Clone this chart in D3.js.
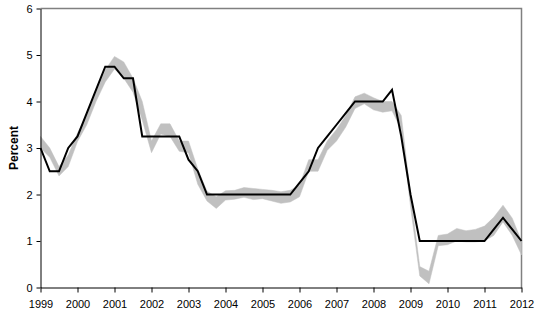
<!DOCTYPE html>
<meta charset="utf-8">
<style>
body {
  margin: 0;
  background: #fff;
}
svg {
  display: block;
  font-family: "Liberation Sans", Arial, sans-serif;
}
.axis text {
  font-size: 11px;
  fill: #000;
}
.axis path, .axis line {
  stroke: #000;
}
</style>
<svg width="539" height="317"></svg>
<script src="https://d3js.org/d3.v7.min.js"></script>
<script>
var svg = d3.select("svg")

// quarterly observations, 1999Q1 .. 2012Q1
var quarters = d3.range(53).map(function(i) { return 1999 + i / 4 })
var years = d3.range(1999, 2013)
var yTicks = [0, 1, 2, 3, 4, 5, 6]

// policy rate (black line)
var policyRate = [
  3.0, 2.5, 2.5, 3.0,
  3.25, 3.75, 4.25, 4.75,
  4.75, 4.5, 4.5, 3.25,
  3.25, 3.25, 3.25, 3.25,
  2.75, 2.5, 2.0, 2.0,
  2.0, 2.0, 2.0, 2.0,
  2.0, 2.0, 2.0, 2.0,
  2.25, 2.5, 3.0, 3.25,
  3.5, 3.75, 4.0, 4.0,
  4.0, 4.0, 4.25, 3.25,
  2.0, 1.0, 1.0, 1.0,
  1.0, 1.0, 1.0, 1.0,
  1.0, 1.25, 1.5, 1.25,
  1.0
]
// gray range: upper and lower bounds
var rangeHigh = [
  3.25, 3.0, 2.6, 2.85,
  3.32, 3.72, 4.2, 4.68,
  4.97, 4.85, 4.5, 4.0,
  3.15, 3.52, 3.52, 3.15,
  3.15, 2.55, 2.07, 1.95,
  2.08, 2.09, 2.15, 2.13,
  2.11, 2.09, 2.06, 2.09,
  2.2, 2.75, 2.75, 3.15,
  3.4, 3.7, 4.1, 4.18,
  4.08, 4.0, 4.0, 3.7,
  2.0, 0.45, 0.35, 1.12,
  1.15, 1.27, 1.22, 1.25,
  1.32, 1.51, 1.77, 1.49,
  1.0
]
var rangeLow = [
  3.0, 2.8, 2.4, 2.6,
  3.14, 3.5, 4.0, 4.42,
  4.7, 4.5, 4.2, 3.6,
  2.9, 3.3, 3.25, 2.93,
  2.9, 2.22, 1.86, 1.7,
  1.88, 1.9, 1.94, 1.89,
  1.91, 1.86, 1.81, 1.84,
  1.95, 2.5, 2.5, 2.95,
  3.15, 3.45, 3.85, 3.95,
  3.82, 3.77, 3.8, 3.4,
  1.75, 0.25, 0.08, 0.9,
  0.92, 1.0, 0.98, 0.98,
  1.0, 1.12, 1.41, 1.12,
  0.7
]

var x = d3.scaleLinear().domain([1999, 2012]).range([40.5, 521.5])
var y = d3.scaleLinear().domain([0, 6]).range([287.5, 8.5])

// gray frame on top and right
svg.append("path")
  .attr("d", "M" + x(1999) + "," + y(6) + "H" + x(2012) + "V" + y(0))
  .attr("fill", "none")
  .attr("stroke", "#808080")
  .attr("stroke-width", 1.5)

var band = d3.area()
  .x(function(d, i) { return x(quarters[i]) })
  .y0(function(d, i) { return y(rangeLow[i]) })
  .y1(function(d, i) { return y(rangeHigh[i]) })
svg.append("path")
  .attr("d", band(quarters))
  .attr("fill", "#c0c0c0")
  .attr("stroke", "#c0c0c0")
  .attr("stroke-width", 0.5)

var line = d3.line()
  .x(function(d, i) { return x(quarters[i]) })
  .y(function(d) { return y(d) })
svg.append("path")
  .attr("d", line(policyRate))
  .attr("fill", "none")
  .attr("stroke", "#000")
  .attr("stroke-width", 2)
  .attr("stroke-linejoin", "miter")

svg.append("g")
  .attr("class", "axis")
  .attr("transform", "translate(" + x(1999) + ",0)")
  .call(d3.axisLeft(y).tickValues(yTicks).tickFormat(d3.format("d"))
    .tickSize(4).tickSizeOuter(0).tickPadding(4))

svg.append("g")
  .attr("class", "axis")
  .attr("transform", "translate(0," + y(0) + ")")
  .call(d3.axisBottom(x).tickValues(years).tickFormat(d3.format("d"))
    .tickSize(5).tickSizeOuter(0).tickPadding(8))

svg.append("text")
  .attr("transform", "translate(18," + ((y(0) + y(6)) / 2) + ") rotate(-90)")
  .attr("text-anchor", "middle")
  .style("font-size", "12px")
  .style("font-weight", "bold")
  .text("Percent")
</script>
